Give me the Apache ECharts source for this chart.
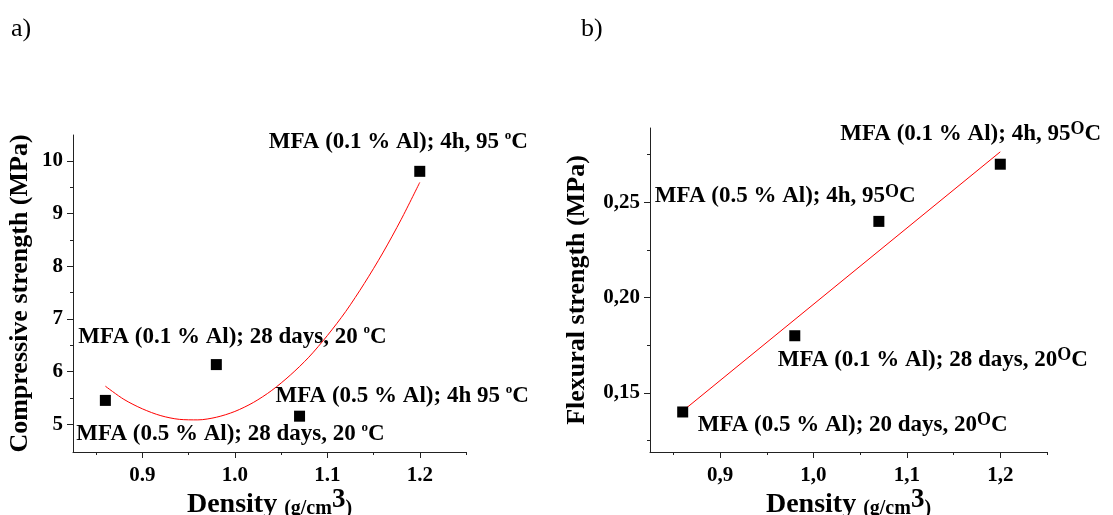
<!DOCTYPE html>
<html>
<head>
<meta charset="utf-8">
<script src="https://cdn.jsdelivr.net/npm/echarts@6/dist/echarts.min.js"></script>
<style>
    html, body { margin: 0; padding: 0; background: #fff; }
    #chart { width: 1113px; height: 515px; }
</style>
</head>
<body>
<div id="chart"></div>
<script>
// data
const density = [0.86, 0.98, 1.07, 1.2];
const compressive = [5.45, 6.13, 5.15, 9.8];
const flexural = [0.14, 0.18, 0.24, 0.27];

// fitted curves
const compFitX = [0.86, 0.88, 0.9, 0.92, 0.94, 0.96, 0.98, 1.0, 1.02, 1.04,
    1.06, 1.08, 1.1, 1.12, 1.14, 1.16, 1.18, 1.2];
const compFitY = [5.72, 5.47, 5.29, 5.16, 5.09, 5.08, 5.13, 5.24, 5.41, 5.64,
    5.93, 6.27, 6.68, 7.14, 7.67, 8.25, 8.89, 9.59];
const flexFitX = [0.86, 1.2];
const flexFitY = [0.1405, 0.2765];

// point labels: [text before superscript, superscript, after]
const compLabels = [
    ['MFA (0.5 % Al); 28 days, 20 ', 'o', 'C'],
    ['MFA (0.1 % Al); 28 days, 20 ', 'o', 'C'],
    ['MFA (0.5 % Al); 4h 95 ', 'o', 'C'],
    ['MFA (0.1 % Al); 4h, 95 ', 'o', 'C']
];
const flexLabels = [
    ['MFA (0.5 % Al); 20 days, 20', 'O', 'C'],
    ['MFA (0.1 % Al); 28 days, 20', 'O', 'C'],
    ['MFA (0.5 % Al); 4h, 95', 'O', 'C'],
    ['MFA (0.1 % Al); 4h, 95', 'O', 'C']
];

// ticks
const xTicks = [0.9, 1.0, 1.1, 1.2];
const xMinor = [0.85, 0.95, 1.05, 1.15, 1.25];
const compTicks = [5, 6, 7, 8, 9, 10];
const compMinor = [5.5, 6.5, 7.5, 8.5, 9.5];
const flexTicks = [0.15, 0.20, 0.25];
const flexMinor = [0.125, 0.175, 0.225, 0.275];

// label offsets relative to the marker (px)
const compOffsets = [[-29, 34], [-138, -28], [-24, -20], [-151, -29]];
const flexOffsets = [[15, 13], [-17, 24], [-224, -25], [-160, -30]];

const FONT = "'Liberation Serif', 'Times New Roman', serif";
const AXIS_COLOR = '#222';

const richLabel = (small) => ({
    t: { fontFamily: FONT, fontWeight: 'bold', fontSize: 23, color: '#000', lineHeight: 27 },
    s: small
        ? { fontFamily: FONT, fontWeight: 'bold', fontSize: 13, color: '#000', verticalAlign: 'top', lineHeight: 13 }
        : { fontFamily: FONT, fontWeight: 'bold', fontSize: 18, color: '#000', verticalAlign: 'top', lineHeight: 15 }
});

const pointData = (xs, ys, labels, offsets, small) => xs.map((x, i) => ({
    value: [x, ys[i]],
    label: {
        show: true,
        position: 'inside',
        align: 'left',
        verticalAlign: 'middle',
        offset: offsets[i],
        formatter: '{t|' + labels[i][0] + '}{s|' + labels[i][1] + '}{t|' + labels[i][2] + '}',
        rich: richLabel(small)
    }
}));

const densityName = {
    name: '{d|Density }{p|(g/cm}{e|3}{p|)}',
    nameLocation: 'middle',
    nameGap: 35,
    nameMoveOverlap: false,
    nameTextStyle: {
        rich: {
            d: { fontFamily: FONT, fontWeight: 'bold', fontSize: 28, color: '#000', verticalAlign: 'bottom', lineHeight: 32 },
            p: { fontFamily: FONT, fontWeight: 'bold', fontSize: 20, color: '#000', verticalAlign: 'bottom', lineHeight: 30 },
            e: { fontFamily: FONT, fontWeight: 'bold', fontSize: 27, color: '#000', verticalAlign: 'top', lineHeight: 14 }
        }
    }
};

const tickLabel = (ticks, fmt, margin) => ({
    customValues: ticks,
    formatter: fmt,
    fontFamily: FONT,
    fontWeight: 'bold',
    fontSize: 21,
    color: '#000',
    margin: margin
});

const majorAxis = (gridIndex, position, min, max, ticks, fmt, extra) => Object.assign({
    type: 'value',
    gridIndex: gridIndex,
    position: position,
    min: min,
    max: max,
    axisLine: { show: true, onZero: false, lineStyle: { color: AXIS_COLOR, width: 1 } },
    axisTick: { show: true, inside: false, length: 6, customValues: ticks, lineStyle: { color: AXIS_COLOR } },
    axisLabel: tickLabel(ticks, fmt, 10),
    splitLine: { show: false }
}, extra || {});

const minorAxis = (gridIndex, position, min, max, ticks) => ({
    type: 'value',
    gridIndex: gridIndex,
    position: position,
    min: min,
    max: max,
    axisLine: { show: false, onZero: false },
    axisTick: { show: true, inside: false, length: 3, customValues: ticks, lineStyle: { color: AXIS_COLOR } },
    axisLabel: { show: false },
    splitLine: { show: false }
});

const dot = (v) => v.toFixed(1);
const comma1 = (v) => v.toFixed(1).replace('.', ',');
const comma2 = (v) => v.toFixed(2).replace('.', ',');

const yName = (text, gap) => ({
    name: text,
    nameLocation: 'middle',
    nameRotate: 90,
    nameGap: gap,
    nameMoveOverlap: false,
    nameTextStyle: { fontFamily: FONT, fontWeight: 'bold', fontSize: 26, color: '#000' }
});

const option = {
    animation: false,
    backgroundColor: '#fff',
    title: [
        { text: 'a)', left: 6, top: 11, textStyle: { fontFamily: FONT, fontWeight: 'normal', fontSize: 26, color: '#000' } },
        { text: 'b)', left: 576, top: 11, textStyle: { fontFamily: FONT, fontWeight: 'normal', fontSize: 26, color: '#000' } }
    ],
    grid: [
        { left: 73, top: 135, width: 393, height: 317, containLabel: false, outerBoundsMode: 'none' },
        { left: 650, top: 128, width: 397, height: 324, containLabel: false, outerBoundsMode: 'none' }
    ],
    xAxis: [
        majorAxis(0, 'bottom', 0.825, 1.25, xTicks, dot, Object.assign({}, densityName, { axisLabel: tickLabel(xTicks, dot, 13) })),
        minorAxis(0, 'bottom', 0.825, 1.25, xMinor),
        majorAxis(1, 'bottom', 0.825, 1.25, xTicks, comma1, Object.assign({}, densityName, { axisLabel: tickLabel(xTicks, comma1, 13) })),
        minorAxis(1, 'bottom', 0.825, 1.25, xMinor)
    ],
    yAxis: [
        majorAxis(0, 'left', 4.47, 10.49, compTicks, (v) => String(v), yName('Compressive strength (MPa)', 40)),
        minorAxis(0, 'left', 4.47, 10.49, compMinor),
        majorAxis(1, 'left', 0.119, 0.289, flexTicks, comma2, yName('Flexural strength (MPa)', 60)),
        minorAxis(1, 'left', 0.119, 0.289, flexMinor)
    ],
    series: [
        {
            type: 'line',
            xAxisIndex: 0,
            yAxisIndex: 0,
            data: compFitX.map((x, i) => [x, compFitY[i]]),
            smooth: 0.3,
            showSymbol: false,
            lineStyle: { color: '#ff0000', width: 1 },
            z: 1
        },
        {
            type: 'scatter',
            xAxisIndex: 0,
            yAxisIndex: 0,
            symbol: 'rect',
            symbolSize: 11,
            itemStyle: { color: '#000', opacity: 1 },
            data: pointData(density, compressive, compLabels, compOffsets, true),
            z: 2
        },
        {
            type: 'line',
            xAxisIndex: 2,
            yAxisIndex: 2,
            data: flexFitX.map((x, i) => [x, flexFitY[i]]),
            showSymbol: false,
            lineStyle: { color: '#ff0000', width: 1 },
            z: 1
        },
        {
            type: 'scatter',
            xAxisIndex: 2,
            yAxisIndex: 2,
            symbol: 'rect',
            symbolSize: 11,
            itemStyle: { color: '#000', opacity: 1 },
            data: pointData(density, flexural, flexLabels, flexOffsets, false),
            z: 2
        }
    ]
};

const chart = echarts.init(document.getElementById('chart'), null, { renderer: 'canvas' });
chart.setOption(option);
</script>
</body>
</html>
